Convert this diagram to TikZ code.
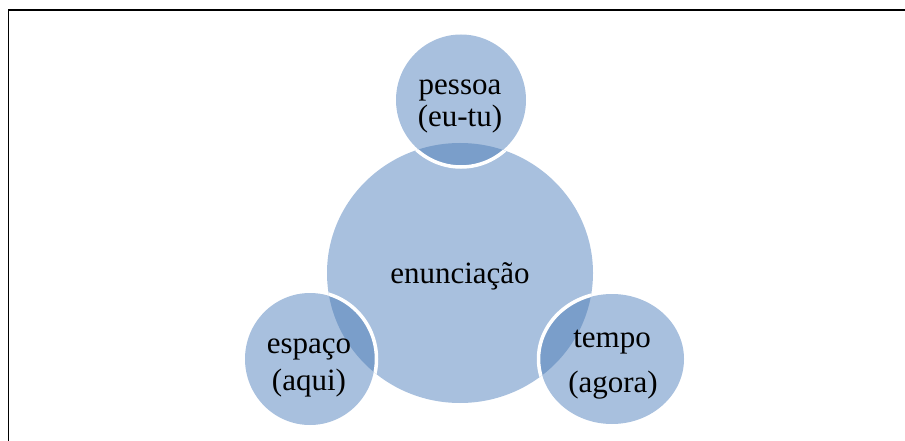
\documentclass[tikz,border=0pt]{standalone}
\usepackage{fontspec}
\setmainfont{Liberation Serif}
\definecolor{discLight}{RGB}{168,192,222}
\definecolor{discDark}{RGB}{122,158,202}
\tikzset{
  label text/.style={font=\fontsize{31}{31}\selectfont, text=black, inner sep=0pt, anchor=base},
  frame line/.style={line width=1.7pt, black},
  gap line/.style={line width=3.5pt, white}
}
\begin{document}
\begin{tikzpicture}[x=1pt, y=-1pt]
  \useasboundingbox (0,0) rectangle (905,441);

  % frame
  \coordinate (frameTL) at (8.5,10);
  \coordinate (frameTR) at (905,10);
  \coordinate (frameBL) at (8.5,441);
  \draw[frame line] (frameBL) -- (frameTL) -- (frameTR);

  % disc centres
  \coordinate (cMain) at (460,273);
  \coordinate (cPessoa) at (461,100);
  \coordinate (cEspaco) at (310,359);
  \coordinate (cTempo) at (612,359);

  % discs
  \fill[discLight] (cMain) ellipse [x radius=133, y radius=130];
  \fill[discLight] (cPessoa) ellipse [x radius=65, y radius=65.5];
  \fill[discLight] (cEspaco) ellipse [x radius=65, y radius=66];
  \fill[discLight] (cTempo) ellipse [x radius=72, y radius=65];

  % overlaps with the central disc
  \begin{scope}
    \clip (cMain) ellipse [x radius=133, y radius=130];
    \fill[discDark] (cPessoa) ellipse [x radius=65, y radius=65.5];
    \fill[discDark] (cEspaco) ellipse [x radius=65, y radius=66];
    \fill[discDark] (cTempo) ellipse [x radius=72, y radius=65];
    \draw[gap line] (cPessoa) ellipse [x radius=66.5, y radius=67];
    \draw[gap line] (cEspaco) ellipse [x radius=66.5, y radius=67.5];
    \draw[gap line] (cTempo) ellipse [x radius=73.5, y radius=66.5];
  \end{scope}

  % labels
  \node[label text] (tMain) at (460,283) {enunciação};
  \node[label text] (tPessoa1) at (460,95) {pessoa};
  \node[label text] (tPessoa2) at (460,127) {(eu-tu)};
  \node[label text] (tEspaco1) at (309,353) {espaço};
  \node[label text] (tEspaco2) at (309,390) {(aqui)};
  \node[label text] (tTempo1) at (612,347) {tempo};
  \node[label text] (tTempo2) at (613,392) {(agora)};
\end{tikzpicture}
\end{document}
